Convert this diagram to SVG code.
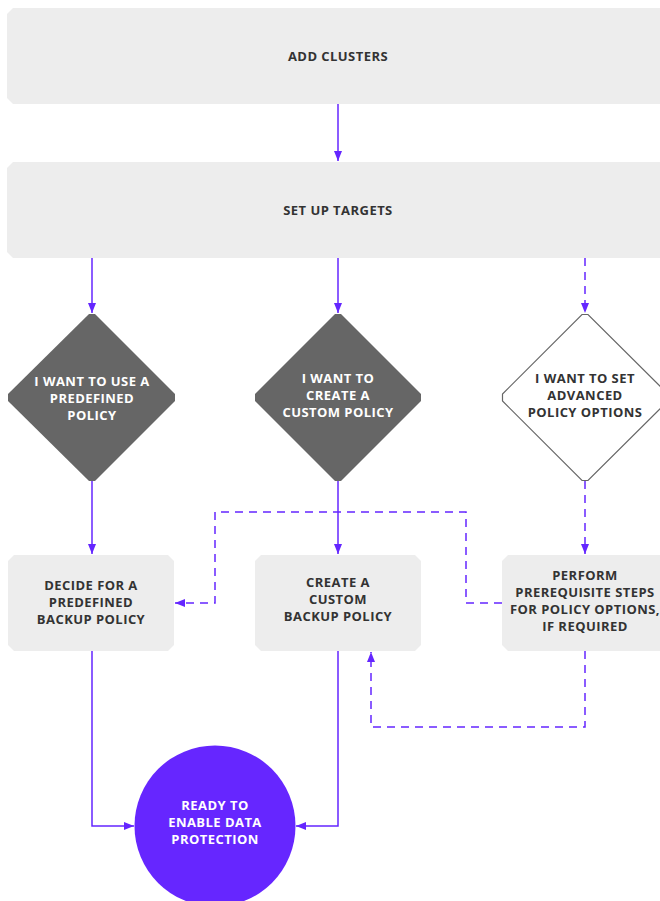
<svg xmlns="http://www.w3.org/2000/svg" width="660" height="901" viewBox="0 0 660 901">
<defs>
<style>
.box{fill:#ededed;}
.dia{fill:#666666;}
.dia2{fill:#ffffff;stroke:#666666;stroke-width:1.2;}
.t{font-family:"Open Sans","Liberation Sans",sans-serif;font-weight:bold;font-size:13px;letter-spacing:0.45px;text-anchor:middle;fill:#333333;}
.tw{fill:#ffffff;}
.c{fill:none;stroke:#6426ff;stroke-width:1.5;}
.d{stroke-dasharray:8,6;}
</style>
<marker id="ah" viewBox="0 0 10 10" refX="10" refY="5" markerWidth="10" markerHeight="10" markerUnits="userSpaceOnUse" orient="auto">
<path d="M0,1 L10,5 L0,9 Z" fill="#6426ff"/>
</marker>
</defs>
<rect width="660" height="901" fill="#ffffff"/>
<g id="connectors">
<path class="c" d="M338,104 V161" marker-end="url(#ah)"/>
<path class="c" d="M92,258 V313" marker-end="url(#ah)"/>
<path class="c" d="M338,258 V313" marker-end="url(#ah)"/>
<path class="c d" d="M585,258 V313" marker-end="url(#ah)"/>
<path class="c" d="M92,481 V554" marker-end="url(#ah)"/>
<path class="c" d="M338,481 V554" marker-end="url(#ah)"/>
<path class="c d" d="M585,481 V554" marker-end="url(#ah)"/>
<path class="c d" d="M502,603 H466 V512 H215 V603 H175" marker-end="url(#ah)"/>
<path class="c d" d="M585,651 V727 H371 V652" marker-end="url(#ah)"/>
<path class="c" d="M92,651 V826 H134" marker-end="url(#ah)"/>
<path class="c" d="M338,651 V826 H296" marker-end="url(#ah)"/>
</g>
<g id="add-clusters">
<path class="box" d="M13,8 H670 V104 H13 L7,98 V14 Z"/>
<text class="t" x="338" y="61">ADD CLUSTERS</text>
</g>
<g id="set-up-targets">
<path class="box" d="M13,162 H670 V258 H13 L7,252 V168 Z"/>
<text class="t" x="338" y="215">SET UP TARGETS</text>
</g>
<g id="d-predefined">
<path class="dia" d="M89,314 H95 L175,394 V401 L95,481 H89 L8,401 V394 Z"/>
<text class="t tw" x="92" y="386">I WANT TO USE A</text>
<text class="t tw" x="92" y="403">PREDEFINED</text>
<text class="t tw" x="92" y="420">POLICY</text>
</g>
<g id="d-custom">
<path class="dia" d="M335,314 H341 L421,394 V401 L341,481 H335 L255,401 V394 Z"/>
<text class="t tw" x="338" y="383">I WANT TO</text>
<text class="t tw" x="338" y="400">CREATE A</text>
<text class="t tw" x="338" y="417">CUSTOM POLICY</text>
</g>
<g id="d-advanced">
<path class="dia2" d="M582,314.5 H588 L668,394 V401 L588,480.5 H582 L502.5,401 V394 Z"/>
<text class="t" x="585" y="383">I WANT TO SET</text>
<text class="t" x="585" y="400">ADVANCED</text>
<text class="t" x="585" y="417">POLICY OPTIONS</text>
</g>
<g id="b-predefined">
<path class="box" d="M14,555 H168 L174,561 V645 L168,651 H14 L8,645 V561 Z"/>
<text class="t" x="91" y="590">DECIDE FOR A</text>
<text class="t" x="91" y="607">PREDEFINED</text>
<text class="t" x="91" y="624">BACKUP POLICY</text>
</g>
<g id="b-custom">
<path class="box" d="M261,555 H415 L421,561 V645 L415,651 H261 L255,645 V561 Z"/>
<text class="t" x="338" y="587">CREATE A</text>
<text class="t" x="338" y="604">CUSTOM</text>
<text class="t" x="338" y="621">BACKUP POLICY</text>
</g>
<g id="b-prereq">
<path class="box" d="M508,555 H670 V651 H508 L502,645 V561 Z"/>
<text class="t" x="585" y="580">PERFORM</text>
<text class="t" x="585" y="597">PREREQUISITE STEPS</text>
<text class="t" x="585" y="614">FOR POLICY OPTIONS,</text>
<text class="t" x="585" y="631">IF REQUIRED</text>
</g>
<g id="ready">
<circle cx="215" cy="826" r="80.5" fill="#6626ff"/>
<text class="t tw" x="215" y="810">READY TO</text>
<text class="t tw" x="215" y="827">ENABLE DATA</text>
<text class="t tw" x="215" y="844">PROTECTION</text>
</g>
</svg>
